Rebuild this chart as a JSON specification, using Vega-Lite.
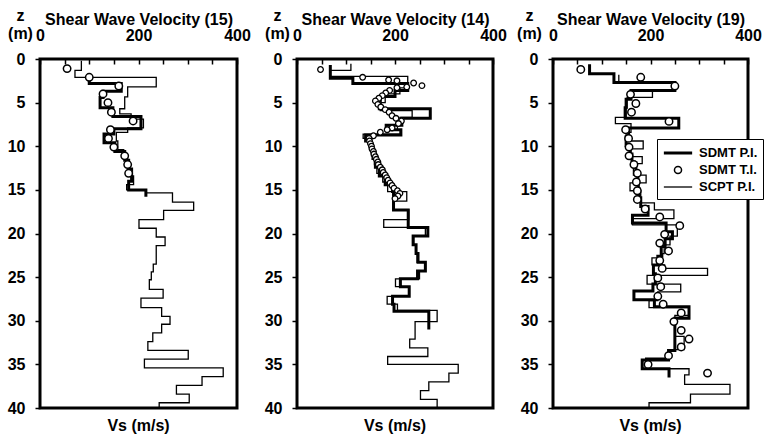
{
  "$schema": "https://vega.github.io/schema/vega-lite/v6.json",
  "padding": {"left": 5, "top": 5, "right": 0, "bottom": 0},
  "background": "white",
  "datasets": {
    "d": [
      {"p":15,"s":"SCPT P.I.","z":0.2,"v":84},{"p":15,"s":"SCPT P.I.","z":1.3,"v":71},{"p":15,"s":"SCPT P.I.","z":2.1,"v":236},{"p":15,"s":"SCPT P.I.","z":3.2,"v":178},{"p":15,"s":"SCPT P.I.","z":4.35,"v":172},{"p":15,"s":"SCPT P.I.","z":5.7,"v":162},{"p":15,"s":"SCPT P.I.","z":6.3,"v":185},{"p":15,"s":"SCPT P.I.","z":6.9,"v":210},{"p":15,"s":"SCPT P.I.","z":7.9,"v":178},{"p":15,"s":"SCPT P.I.","z":8.4,"v":155},{"p":15,"s":"SCPT P.I.","z":9.4,"v":158},{"p":15,"s":"SCPT P.I.","z":10.4,"v":170},{"p":15,"s":"SCPT P.I.","z":11.4,"v":178},{"p":15,"s":"SCPT P.I.","z":12.4,"v":182},{"p":15,"s":"SCPT P.I.","z":13.4,"v":190},{"p":15,"s":"SCPT P.I.","z":14.4,"v":176},{"p":15,"s":"SCPT P.I.","z":15.0,"v":215},{"p":15,"s":"SCPT P.I.","z":15.35,"v":269},{"p":15,"s":"SCPT P.I.","z":16.4,"v":312},{"p":15,"s":"SCPT P.I.","z":17.35,"v":251},{"p":15,"s":"SCPT P.I.","z":18.4,"v":201},{"p":15,"s":"SCPT P.I.","z":19.4,"v":236},{"p":15,"s":"SCPT P.I.","z":20.4,"v":254},{"p":15,"s":"SCPT P.I.","z":21.4,"v":236},{"p":15,"s":"SCPT P.I.","z":23.5,"v":230},{"p":15,"s":"SCPT P.I.","z":24.4,"v":226},{"p":15,"s":"SCPT P.I.","z":25.3,"v":222},{"p":15,"s":"SCPT P.I.","z":26.4,"v":250},{"p":15,"s":"SCPT P.I.","z":27.4,"v":205},{"p":15,"s":"SCPT P.I.","z":28.5,"v":247},{"p":15,"s":"SCPT P.I.","z":29.5,"v":264},{"p":15,"s":"SCPT P.I.","z":30.4,"v":247},{"p":15,"s":"SCPT P.I.","z":31.4,"v":229},{"p":15,"s":"SCPT P.I.","z":32.4,"v":219},{"p":15,"s":"SCPT P.I.","z":33.4,"v":301},{"p":15,"s":"SCPT P.I.","z":34.4,"v":212},{"p":15,"s":"SCPT P.I.","z":35.4,"v":372},{"p":15,"s":"SCPT P.I.","z":36.4,"v":329},{"p":15,"s":"SCPT P.I.","z":37.4,"v":277},{"p":15,"s":"SCPT P.I.","z":38.4,"v":303},{"p":15,"s":"SCPT P.I.","z":39.4,"v":242},{"p":15,"s":"SCPT P.I.","z":40,"v":242},
      {"p":15,"s":"SDMT P.I.","z":2.2,"v":100},{"p":15,"s":"SDMT P.I.","z":2.8,"v":165},{"p":15,"s":"SDMT P.I.","z":3.7,"v":128},{"p":15,"s":"SDMT P.I.","z":4.4,"v":122},{"p":15,"s":"SDMT P.I.","z":5.6,"v":148},{"p":15,"s":"SDMT P.I.","z":6.6,"v":205},{"p":15,"s":"SDMT P.I.","z":8.0,"v":150},{"p":15,"s":"SDMT P.I.","z":8.6,"v":130},{"p":15,"s":"SDMT P.I.","z":9.6,"v":152},{"p":15,"s":"SDMT P.I.","z":10.6,"v":172},{"p":15,"s":"SDMT P.I.","z":11.6,"v":180},{"p":15,"s":"SDMT P.I.","z":12.6,"v":186},{"p":15,"s":"SDMT P.I.","z":14.0,"v":180},{"p":15,"s":"SDMT P.I.","z":15.0,"v":215},{"p":15,"s":"SDMT P.I.","z":15.8,"v":215},
      {"p":15,"s":"SDMT T.I.","z":1.1,"v":55},{"p":15,"s":"SDMT T.I.","z":2.1,"v":100},{"p":15,"s":"SDMT T.I.","z":3.1,"v":160},{"p":15,"s":"SDMT T.I.","z":4.0,"v":128},{"p":15,"s":"SDMT T.I.","z":5.0,"v":138},{"p":15,"s":"SDMT T.I.","z":6.1,"v":145},{"p":15,"s":"SDMT T.I.","z":7.1,"v":189},{"p":15,"s":"SDMT T.I.","z":8.1,"v":143},{"p":15,"s":"SDMT T.I.","z":9.1,"v":139},{"p":15,"s":"SDMT T.I.","z":10.1,"v":150},{"p":15,"s":"SDMT T.I.","z":11.1,"v":172},{"p":15,"s":"SDMT T.I.","z":12.1,"v":178},{"p":15,"s":"SDMT T.I.","z":13.1,"v":180},
      {"p":14,"s":"SCPT P.I.","z":0.55,"v":110},{"p":14,"s":"SCPT P.I.","z":1.3,"v":68},{"p":14,"s":"SCPT P.I.","z":2.0,"v":226},{"p":14,"s":"SCPT P.I.","z":3.3,"v":210},{"p":14,"s":"SCPT P.I.","z":4.0,"v":180},{"p":14,"s":"SCPT P.I.","z":5.0,"v":170},{"p":14,"s":"SCPT P.I.","z":5.9,"v":235},{"p":14,"s":"SCPT P.I.","z":6.7,"v":210},{"p":14,"s":"SCPT P.I.","z":7.4,"v":205},{"p":14,"s":"SCPT P.I.","z":8.1,"v":211},{"p":14,"s":"SCPT P.I.","z":8.6,"v":135},{"p":14,"s":"SCPT P.I.","z":9.1,"v":150},{"p":14,"s":"SCPT P.I.","z":10.1,"v":152},{"p":14,"s":"SCPT P.I.","z":11.1,"v":158},{"p":14,"s":"SCPT P.I.","z":12.1,"v":163},{"p":14,"s":"SCPT P.I.","z":13.1,"v":175},{"p":14,"s":"SCPT P.I.","z":14.1,"v":185},{"p":14,"s":"SCPT P.I.","z":15.2,"v":224},{"p":14,"s":"SCPT P.I.","z":16.3,"v":196},{"p":14,"s":"SCPT P.I.","z":17.3,"v":228},{"p":14,"s":"SCPT P.I.","z":18.4,"v":177},{"p":14,"s":"SCPT P.I.","z":19.3,"v":262},{"p":14,"s":"SCPT P.I.","z":20.3,"v":238},{"p":14,"s":"SCPT P.I.","z":21.3,"v":243},{"p":14,"s":"SCPT P.I.","z":22.3,"v":245},{"p":14,"s":"SCPT P.I.","z":23.3,"v":262},{"p":14,"s":"SCPT P.I.","z":24.3,"v":250},{"p":14,"s":"SCPT P.I.","z":25.2,"v":201},{"p":14,"s":"SCPT P.I.","z":26.1,"v":229},{"p":14,"s":"SCPT P.I.","z":27.2,"v":184},{"p":14,"s":"SCPT P.I.","z":28.1,"v":205},{"p":14,"s":"SCPT P.I.","z":28.8,"v":286},{"p":14,"s":"SCPT P.I.","z":30.1,"v":241},{"p":14,"s":"SCPT P.I.","z":32.1,"v":230},{"p":14,"s":"SCPT P.I.","z":33.1,"v":267},{"p":14,"s":"SCPT P.I.","z":34.1,"v":185},{"p":14,"s":"SCPT P.I.","z":35.0,"v":329},{"p":14,"s":"SCPT P.I.","z":36.0,"v":310},{"p":14,"s":"SCPT P.I.","z":37.0,"v":269},{"p":14,"s":"SCPT P.I.","z":38.0,"v":252},{"p":14,"s":"SCPT P.I.","z":39.0,"v":286},{"p":14,"s":"SCPT P.I.","z":40,"v":286},
      {"p":14,"s":"SDMT P.I.","z":0.7,"v":68},{"p":14,"s":"SDMT P.I.","z":2.2,"v":114},{"p":14,"s":"SDMT P.I.","z":2.8,"v":226},{"p":14,"s":"SDMT P.I.","z":3.6,"v":200},{"p":14,"s":"SDMT P.I.","z":4.3,"v":170},{"p":14,"s":"SDMT P.I.","z":5.2,"v":168},{"p":14,"s":"SDMT P.I.","z":5.7,"v":272},{"p":14,"s":"SDMT P.I.","z":6.8,"v":214},{"p":14,"s":"SDMT P.I.","z":7.6,"v":182},{"p":14,"s":"SDMT P.I.","z":8.1,"v":212},{"p":14,"s":"SDMT P.I.","z":8.7,"v":140},{"p":14,"s":"SDMT P.I.","z":9.4,"v":150},{"p":14,"s":"SDMT P.I.","z":10.4,"v":155},{"p":14,"s":"SDMT P.I.","z":11.4,"v":160},{"p":14,"s":"SDMT P.I.","z":12.4,"v":168},{"p":14,"s":"SDMT P.I.","z":13.4,"v":180},{"p":14,"s":"SDMT P.I.","z":14.4,"v":195},{"p":14,"s":"SDMT P.I.","z":15.2,"v":197},{"p":14,"s":"SDMT P.I.","z":17.3,"v":227},{"p":14,"s":"SDMT P.I.","z":19.3,"v":267},{"p":14,"s":"SDMT P.I.","z":20.3,"v":237},{"p":14,"s":"SDMT P.I.","z":21.3,"v":243},{"p":14,"s":"SDMT P.I.","z":22.3,"v":247},{"p":14,"s":"SDMT P.I.","z":23.3,"v":262},{"p":14,"s":"SDMT P.I.","z":24.3,"v":246},{"p":14,"s":"SDMT P.I.","z":25.2,"v":211},{"p":14,"s":"SDMT P.I.","z":26.1,"v":229},{"p":14,"s":"SDMT P.I.","z":27.2,"v":195},{"p":14,"s":"SDMT P.I.","z":28.1,"v":198},{"p":14,"s":"SDMT P.I.","z":28.9,"v":269},{"p":14,"s":"SDMT P.I.","z":31.0,"v":269},
      {"p":14,"s":"SDMT T.I.","z":1.2,"v":48},{"p":14,"s":"SDMT T.I.","z":2.1,"v":134},{"p":14,"s":"SDMT T.I.","z":2.4,"v":187},{"p":14,"s":"SDMT T.I.","z":2.5,"v":204},{"p":14,"s":"SDMT T.I.","z":2.75,"v":238},{"p":14,"s":"SDMT T.I.","z":3.05,"v":255},{"p":14,"s":"SDMT T.I.","z":3.2,"v":224},{"p":14,"s":"SDMT T.I.","z":3.3,"v":204},{"p":14,"s":"SDMT T.I.","z":3.6,"v":189},{"p":14,"s":"SDMT T.I.","z":3.9,"v":181},{"p":14,"s":"SDMT T.I.","z":4.2,"v":174},{"p":14,"s":"SDMT T.I.","z":4.5,"v":167},{"p":14,"s":"SDMT T.I.","z":4.8,"v":160},{"p":14,"s":"SDMT T.I.","z":5.2,"v":165},{"p":14,"s":"SDMT T.I.","z":5.5,"v":171},{"p":14,"s":"SDMT T.I.","z":5.8,"v":180},{"p":14,"s":"SDMT T.I.","z":6.1,"v":188},{"p":14,"s":"SDMT T.I.","z":6.5,"v":194},{"p":14,"s":"SDMT T.I.","z":6.8,"v":202},{"p":14,"s":"SDMT T.I.","z":7.1,"v":213},{"p":14,"s":"SDMT T.I.","z":7.4,"v":207},{"p":14,"s":"SDMT T.I.","z":7.9,"v":194},{"p":14,"s":"SDMT T.I.","z":8.1,"v":184},{"p":14,"s":"SDMT T.I.","z":8.4,"v":170},{"p":14,"s":"SDMT T.I.","z":8.8,"v":156},{"p":14,"s":"SDMT T.I.","z":9.1,"v":147},{"p":14,"s":"SDMT T.I.","z":9.4,"v":148},{"p":14,"s":"SDMT T.I.","z":9.7,"v":150},{"p":14,"s":"SDMT T.I.","z":10.0,"v":152},{"p":14,"s":"SDMT T.I.","z":10.3,"v":153},{"p":14,"s":"SDMT T.I.","z":10.6,"v":156},{"p":14,"s":"SDMT T.I.","z":10.9,"v":157},{"p":14,"s":"SDMT T.I.","z":11.2,"v":160},{"p":14,"s":"SDMT T.I.","z":11.5,"v":162},{"p":14,"s":"SDMT T.I.","z":11.8,"v":165},{"p":14,"s":"SDMT T.I.","z":12.1,"v":166},{"p":14,"s":"SDMT T.I.","z":12.4,"v":170},{"p":14,"s":"SDMT T.I.","z":12.7,"v":174},{"p":14,"s":"SDMT T.I.","z":13.0,"v":176},{"p":14,"s":"SDMT T.I.","z":13.3,"v":180},{"p":14,"s":"SDMT T.I.","z":13.6,"v":183},{"p":14,"s":"SDMT T.I.","z":13.9,"v":186},{"p":14,"s":"SDMT T.I.","z":14.2,"v":190},{"p":14,"s":"SDMT T.I.","z":14.5,"v":194},{"p":14,"s":"SDMT T.I.","z":14.8,"v":198},{"p":14,"s":"SDMT T.I.","z":15.1,"v":205},{"p":14,"s":"SDMT T.I.","z":15.4,"v":210},{"p":14,"s":"SDMT T.I.","z":15.7,"v":206},{"p":14,"s":"SDMT T.I.","z":16.0,"v":200},
      {"p":19,"s":"SCPT P.I.","z":1.8,"v":135},{"p":19,"s":"SCPT P.I.","z":2.7,"v":245},{"p":19,"s":"SCPT P.I.","z":3.5,"v":204},{"p":19,"s":"SCPT P.I.","z":4.4,"v":152},{"p":19,"s":"SCPT P.I.","z":5.6,"v":150},{"p":19,"s":"SCPT P.I.","z":6.7,"v":128},{"p":19,"s":"SCPT P.I.","z":7.4,"v":160},{"p":19,"s":"SCPT P.I.","z":8.4,"v":150},{"p":19,"s":"SCPT P.I.","z":9.4,"v":185},{"p":19,"s":"SCPT P.I.","z":10.3,"v":160},{"p":19,"s":"SCPT P.I.","z":11.2,"v":183},{"p":19,"s":"SCPT P.I.","z":12.0,"v":165},{"p":19,"s":"SCPT P.I.","z":13.3,"v":191},{"p":19,"s":"SCPT P.I.","z":14.2,"v":158},{"p":19,"s":"SCPT P.I.","z":15.1,"v":180},{"p":19,"s":"SCPT P.I.","z":16.5,"v":208},{"p":19,"s":"SCPT P.I.","z":17.3,"v":248},{"p":19,"s":"SCPT P.I.","z":18.3,"v":163},{"p":19,"s":"SCPT P.I.","z":19.0,"v":255},{"p":19,"s":"SCPT P.I.","z":20.3,"v":240},{"p":19,"s":"SCPT P.I.","z":21.3,"v":228},{"p":19,"s":"SCPT P.I.","z":22.3,"v":225},{"p":19,"s":"SCPT P.I.","z":22.8,"v":203},{"p":19,"s":"SCPT P.I.","z":23.6,"v":229},{"p":19,"s":"SCPT P.I.","z":24.0,"v":317},{"p":19,"s":"SCPT P.I.","z":24.8,"v":193},{"p":19,"s":"SCPT P.I.","z":25.8,"v":262},{"p":19,"s":"SCPT P.I.","z":26.7,"v":215},{"p":19,"s":"SCPT P.I.","z":27.7,"v":197},{"p":19,"s":"SCPT P.I.","z":28.5,"v":279},{"p":19,"s":"SCPT P.I.","z":29.4,"v":250},{"p":19,"s":"SCPT P.I.","z":31.8,"v":269},{"p":19,"s":"SCPT P.I.","z":33.3,"v":238},{"p":19,"s":"SCPT P.I.","z":34.3,"v":190},{"p":19,"s":"SCPT P.I.","z":35.5,"v":279},{"p":19,"s":"SCPT P.I.","z":36.2,"v":270},{"p":19,"s":"SCPT P.I.","z":37.3,"v":363},{"p":19,"s":"SCPT P.I.","z":38.4,"v":282},{"p":19,"s":"SCPT P.I.","z":39.4,"v":197},{"p":19,"s":"SCPT P.I.","z":40,"v":197},
      {"p":19,"s":"SDMT P.I.","z":0.6,"v":75},{"p":19,"s":"SDMT P.I.","z":1.7,"v":125},{"p":19,"s":"SDMT P.I.","z":2.7,"v":250},{"p":19,"s":"SDMT P.I.","z":3.6,"v":160},{"p":19,"s":"SDMT P.I.","z":4.6,"v":150},{"p":19,"s":"SDMT P.I.","z":5.6,"v":148},{"p":19,"s":"SDMT P.I.","z":6.8,"v":258},{"p":19,"s":"SDMT P.I.","z":7.9,"v":155},{"p":19,"s":"SDMT P.I.","z":8.9,"v":150},{"p":19,"s":"SDMT P.I.","z":9.9,"v":158},{"p":19,"s":"SDMT P.I.","z":10.9,"v":162},{"p":19,"s":"SDMT P.I.","z":11.9,"v":170},{"p":19,"s":"SDMT P.I.","z":12.9,"v":174},{"p":19,"s":"SDMT P.I.","z":13.9,"v":175},{"p":19,"s":"SDMT P.I.","z":14.9,"v":177},{"p":19,"s":"SDMT P.I.","z":15.9,"v":180},{"p":19,"s":"SDMT P.I.","z":16.9,"v":195},{"p":19,"s":"SDMT P.I.","z":17.9,"v":163},{"p":19,"s":"SDMT P.I.","z":18.8,"v":232},{"p":19,"s":"SDMT P.I.","z":19.8,"v":245},{"p":19,"s":"SDMT P.I.","z":20.6,"v":230},{"p":19,"s":"SDMT P.I.","z":21.5,"v":222},{"p":19,"s":"SDMT P.I.","z":22.6,"v":215},{"p":19,"s":"SDMT P.I.","z":23.6,"v":206},{"p":19,"s":"SDMT P.I.","z":24.6,"v":210},{"p":19,"s":"SDMT P.I.","z":25.8,"v":205},{"p":19,"s":"SDMT P.I.","z":26.6,"v":166},{"p":19,"s":"SDMT P.I.","z":27.6,"v":208},{"p":19,"s":"SDMT P.I.","z":28.4,"v":279},{"p":19,"s":"SDMT P.I.","z":29.7,"v":250},{"p":19,"s":"SDMT P.I.","z":33.4,"v":237},{"p":19,"s":"SDMT P.I.","z":34.5,"v":183},{"p":19,"s":"SDMT P.I.","z":35.5,"v":238},{"p":19,"s":"SDMT P.I.","z":36.5,"v":238},
      {"p":19,"s":"SDMT T.I.","z":1.2,"v":57},{"p":19,"s":"SDMT T.I.","z":2.1,"v":180},{"p":19,"s":"SDMT T.I.","z":3.1,"v":250},{"p":19,"s":"SDMT T.I.","z":4.05,"v":159},{"p":19,"s":"SDMT T.I.","z":5.1,"v":170},{"p":19,"s":"SDMT T.I.","z":6.1,"v":161},{"p":19,"s":"SDMT T.I.","z":7.15,"v":238},{"p":19,"s":"SDMT T.I.","z":8.1,"v":149},{"p":19,"s":"SDMT T.I.","z":9.1,"v":155},{"p":19,"s":"SDMT T.I.","z":10.1,"v":156},{"p":19,"s":"SDMT T.I.","z":11.1,"v":156},{"p":19,"s":"SDMT T.I.","z":12.1,"v":166},{"p":19,"s":"SDMT T.I.","z":13.1,"v":173},{"p":19,"s":"SDMT T.I.","z":14.1,"v":171},{"p":19,"s":"SDMT T.I.","z":15.1,"v":173},{"p":19,"s":"SDMT T.I.","z":16.1,"v":173},{"p":19,"s":"SDMT T.I.","z":17.2,"v":189},{"p":19,"s":"SDMT T.I.","z":18.1,"v":219},{"p":19,"s":"SDMT T.I.","z":19.1,"v":260},{"p":19,"s":"SDMT T.I.","z":20.1,"v":229},{"p":19,"s":"SDMT T.I.","z":21.1,"v":219},{"p":19,"s":"SDMT T.I.","z":22.0,"v":237},{"p":19,"s":"SDMT T.I.","z":23.1,"v":219},{"p":19,"s":"SDMT T.I.","z":24.0,"v":224},{"p":19,"s":"SDMT T.I.","z":25.1,"v":215},{"p":19,"s":"SDMT T.I.","z":26.1,"v":221},{"p":19,"s":"SDMT T.I.","z":27.2,"v":215},{"p":19,"s":"SDMT T.I.","z":28.1,"v":226},{"p":19,"s":"SDMT T.I.","z":29.1,"v":263},{"p":19,"s":"SDMT T.I.","z":30.1,"v":248},{"p":19,"s":"SDMT T.I.","z":31.1,"v":263},{"p":19,"s":"SDMT T.I.","z":32.1,"v":279},{"p":19,"s":"SDMT T.I.","z":33.0,"v":263},{"p":19,"s":"SDMT T.I.","z":34.0,"v":237},{"p":19,"s":"SDMT T.I.","z":35.0,"v":195},{"p":19,"s":"SDMT T.I.","z":36.0,"v":317}
    ]
  },
  "data": {"name": "d"},
  "config": {
    "font": "Liberation Sans",
    "view": {"stroke": "black", "strokeWidth": 3},
    "axis": {
      "labelFont": "Liberation Sans", "labelFontWeight": "bold", "labelFontSize": 16, "labelColor": "black",
      "titleFont": "Liberation Sans", "titleFontWeight": "bold", "titleFontSize": 16, "titleColor": "black",
      "grid": false, "domain": false, "tickColor": "black", "tickWidth": 1.5, "labelFlush": false
    },
    "legend": {"orient": "none", "legendX": 104, "legendY": 80, "title": null, "fillColor": "white", "strokeColor": "black", "padding": 5, "labelFont": "Liberation Sans", "labelFontSize": 13, "labelFontWeight": "bold", "labelColor": "black", "symbolSize": 200, "symbolOffset": 7, "rowPadding": 2, "labelOffset": 12},
    "title": {"font": "Liberation Sans", "fontWeight": "bold", "fontSize": 16, "color": "black"}
  },
  "bounds": "flush",
  "spacing": 60,
  "resolve": {"scale": {"strokeWidth": "independent", "shape": "independent"}, "legend": {"strokeWidth": "independent", "shape": "independent"}},
  "hconcat": [
    {
      "width": 197, "height": 349,
      "title": {"text": "Vs (m/s)", "orient": "bottom", "offset": 2},
      "encoding": {
        "x": {"field": "v", "type": "quantitative", "scale": {"domain": [0, 400], "nice": false},
          "axis": {"orient": "top", "values": [0,50,100,150,200,250,300,350,400], "labelExpr": "datum.value % 200 === 0 ? datum.label : ''", "tickSize": -5, "labelPadding": 21, "title": "Shear Wave Velocity (15)", "titlePadding": 0}},
        "y": {"field": "z", "type": "quantitative", "scale": {"domain": [0, 40], "reverse": true, "nice": false},
          "axis": {"values": [0,5,10,15,20,25,30,35,40], "tickSize": 5, "labelPadding": 10, "title": ["z", "(m)"], "titleAngle": 0, "titleAlign": "center", "titleBaseline": "alphabetic", "titleX": -20, "titleY": -39, "titleLineHeight": 18}},
        "order": {"field": "z", "type": "quantitative"}
      },
      "layer": [
        {"transform": [{"filter": "datum.p == 15 && datum.s == 'SCPT P.I.'"}], "mark": {"type": "line", "interpolate": "step-before", "color": "black", "strokeWidth": 1.3}},
        {"transform": [{"filter": "datum.p == 15 && datum.s == 'SDMT P.I.'"}], "mark": {"type": "line", "interpolate": "step-before", "color": "black", "strokeWidth": 3}},
        {"transform": [{"filter": "datum.p == 15 && datum.s == 'SDMT T.I.'"}], "mark": {"type": "point", "shape": "circle", "filled": true, "fill": "white", "stroke": "black", "strokeWidth": 1.5, "size": 55, "opacity": 1}}
      ]
    },
    {
      "width": 196, "height": 349,
      "title": {"text": "Vs (m/s)", "orient": "bottom", "offset": 2},
      "encoding": {
        "x": {"field": "v", "type": "quantitative", "scale": {"domain": [0, 400], "nice": false},
          "axis": {"orient": "top", "values": [0,50,100,150,200,250,300,350,400], "labelExpr": "datum.value % 200 === 0 ? datum.label : ''", "tickSize": -5, "labelPadding": 21, "title": "Shear Wave Velocity (14)", "titlePadding": 0}},
        "y": {"field": "z", "type": "quantitative", "scale": {"domain": [0, 40], "reverse": true, "nice": false},
          "axis": {"values": [0,5,10,15,20,25,30,35,40], "tickSize": 5, "labelPadding": 10, "title": ["z", "(m)"], "titleAngle": 0, "titleAlign": "center", "titleBaseline": "alphabetic", "titleX": -20, "titleY": -39, "titleLineHeight": 18}},
        "order": {"field": "z", "type": "quantitative"}
      },
      "layer": [
        {"transform": [{"filter": "datum.p == 14 && datum.s == 'SCPT P.I.'"}], "mark": {"type": "line", "interpolate": "step-before", "color": "black", "strokeWidth": 1.3}},
        {"transform": [{"filter": "datum.p == 14 && datum.s == 'SDMT P.I.'"}], "mark": {"type": "line", "interpolate": "step-before", "color": "black", "strokeWidth": 3}},
        {"transform": [{"filter": "datum.p == 14 && datum.s == 'SDMT T.I.'"}], "mark": {"type": "point", "shape": "circle", "filled": true, "fill": "white", "stroke": "black", "strokeWidth": 1.3, "size": 32, "opacity": 1}}
      ]
    },
    {
      "width": 195, "height": 349,
      "title": {"text": "Vs (m/s)", "orient": "bottom", "offset": 2},
      "encoding": {
        "x": {"field": "v", "type": "quantitative", "scale": {"domain": [0, 400], "nice": false},
          "axis": {"orient": "top", "values": [0,50,100,150,200,250,300,350,400], "labelExpr": "datum.value % 200 === 0 ? datum.label : ''", "tickSize": -5, "labelPadding": 21, "title": "Shear Wave Velocity (19)", "titlePadding": 0}},
        "y": {"field": "z", "type": "quantitative", "scale": {"domain": [0, 40], "reverse": true, "nice": false},
          "axis": {"values": [0,5,10,15,20,25,30,35,40], "tickSize": 5, "labelPadding": 10, "title": ["z", "(m)"], "titleAngle": 0, "titleAlign": "center", "titleBaseline": "alphabetic", "titleX": -24, "titleY": -39, "titleLineHeight": 18}},
        "order": {"field": "z", "type": "quantitative"},
        "strokeWidth": {"field": "s", "type": "nominal",
          "scale": {"type": "ordinal", "domain": ["SDMT P.I.", "SDMT T.I.", "SCPT P.I."], "range": [3, 1.5, 1.3]}}
      },
      "layer": [
        {"transform": [{"filter": "datum.p == 19 && datum.s == 'SCPT P.I.'"}], "mark": {"type": "line", "interpolate": "step-before", "color": "black"}},
        {"transform": [{"filter": "datum.p == 19 && datum.s == 'SDMT P.I.'"}], "mark": {"type": "line", "interpolate": "step-before", "color": "black"}},
        {"transform": [{"filter": "datum.p == 19 && datum.s == 'SDMT T.I.'"}], "mark": {"type": "point", "shape": "circle", "filled": true, "color": "white", "size": 55, "opacity": 1},
          "encoding": {"strokeWidth": {"value": 0}}},
        {"transform": [{"filter": "datum.p == 19 && datum.s == 'SDMT T.I.'"}], "mark": {"type": "point", "filled": false, "color": "black", "size": 220, "opacity": 1},
          "encoding": {"shape": {"field": "s", "type": "nominal",
            "scale": {"domain": ["SDMT P.I.", "SDMT T.I.", "SCPT P.I."], "range": ["M-2,0H2", "M-0.5,0a0.5,0.5 0 1,0 1,0a0.5,0.5 0 1,0 -1,0Z", "M-2,0H2"]}}}}
      ]
    }
  ]
}
